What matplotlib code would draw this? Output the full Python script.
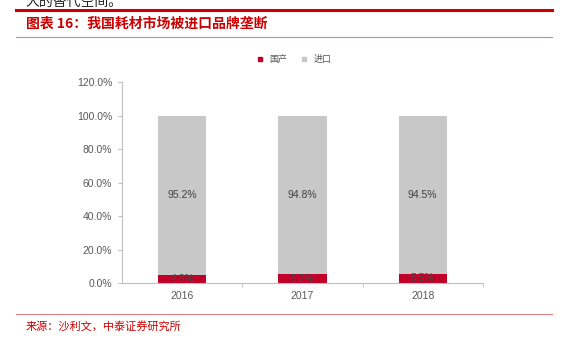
import numpy as np
import matplotlib.pyplot as plt
from matplotlib.lines import Line2D

plt.rcParams['font.family'] = ['Noto Sans CJK SC', 'DejaVu Sans']

years = ['2016', '2017', '2018']
domestic = [4.8, 5.2, 5.5]
imported = [95.2, 94.8, 94.5]
series_names = ['国产', '进口']
yticks = [0, 20, 40, 60, 80, 100, 120]

red = '#c00028'
grey = '#c8c8c8'
text_grey = '#595959'
num_font = 'Liberation Sans'

fig = plt.figure(figsize=(5.71, 3.49), dpi=100)
ax = fig.add_axes([0.2137, 0.189, 0.632, 0.576])

x = np.arange(len(years))
ax.bar(x, domestic, width=0.4, color=red, zorder=2)
ax.bar(x, imported, width=0.4, bottom=domestic, color=grey, zorder=2)

for i in range(len(years)):
    ax.text(x[i], domestic[i] / 2, '{:.1f}%'.format(domestic[i]),
            ha='center', va='center', fontsize=7.5, color='#4a4a4a',
            family=num_font)
    ax.text(x[i], domestic[i] + imported[i] / 2, '{:.1f}%'.format(imported[i]),
            ha='center', va='center', fontsize=7.5, color='#404040',
            family=num_font)

ax.set_xlim(-0.5, 2.5)
ax.set_ylim(0, 120)
ax.set_yticks(yticks)
ax.set_yticklabels(['{:.1f}%'.format(v) for v in yticks], fontsize=7.5,
                   color=text_grey, family=num_font)
ax.set_xticks(x)
ax.set_xticklabels(years, fontsize=7.5, color=text_grey, family=num_font)
ax.set_xticks([0.5, 1.5, 2.5], minor=True)
ax.tick_params(axis='x', which='major', length=0, pad=6)
ax.tick_params(axis='x', which='minor', length=3, color='#bfbfbf')
ax.tick_params(axis='y', length=3, color='#bfbfbf', pad=4)
for s in ['top', 'right']:
    ax.spines[s].set_visible(False)
for s in ['left', 'bottom']:
    ax.spines[s].set_color('#bfbfbf')
    ax.spines[s].set_linewidth(0.8)

handles = [Line2D([], [], marker='s', ls='', color=red, markersize=3.5),
           Line2D([], [], marker='s', ls='', color=grey, markersize=3.5)]
fig.legend(handles, series_names, loc='center', bbox_to_anchor=(0.51, 0.829),
           ncol=2, frameon=False, fontsize=6.5, handletextpad=0.1,
           columnspacing=0.8, labelcolor=text_grey)

# header / footer decoration
fig.add_artist(Line2D([0.028, 0.967], [0.971, 0.971], color='#cc0000', lw=2.2))
fig.add_artist(Line2D([0.028, 0.967], [0.894, 0.894], color='#e08080', lw=0.8))
fig.add_artist(Line2D([0.028, 0.967], [0.100, 0.100], color='#e08080', lw=0.8))
fig.text(0.045, 0.995, '大的替代空间。', fontsize=10, color='#222222',
         va='center', ha='left')
fig.text(0.045, 0.932, '图表 16：我国耗材市场被进口品牌垄断', fontsize=10,
         color='#cc0000', fontweight='bold', va='center', ha='left')
fig.text(0.045, 0.063, '来源：沙利文，中泰证券研究所', fontsize=8,
         color='#cc0000', va='center', ha='left')

plt.savefig('out.png')
